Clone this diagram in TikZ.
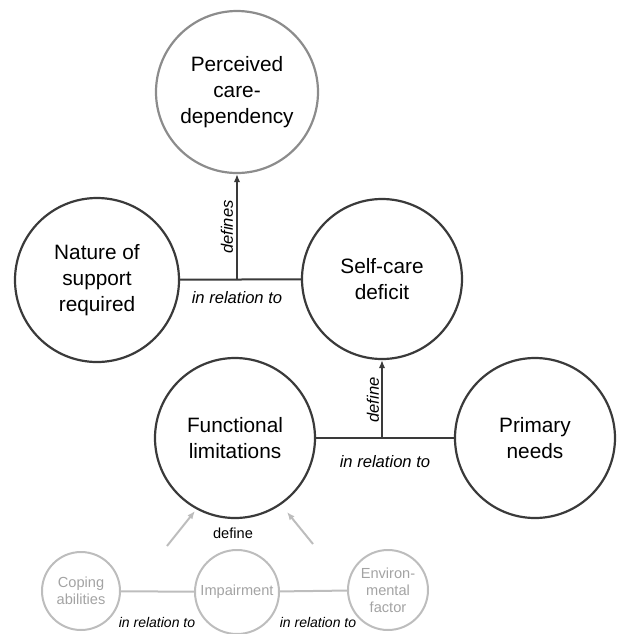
\documentclass[tikz,border=0pt]{standalone}
\usepackage{fontspec}
\setmainfont{Liberation Sans}
\usetikzlibrary{arrows.meta}
\definecolor{edgegray}{HTML}{3A3A3A}
\definecolor{softgray}{HTML}{8C8C8C}
\definecolor{palegray}{HTML}{BDBDBD}
\definecolor{fadetext}{HTML}{A3A3A3}
\begin{document}
\begin{tikzpicture}[x=0.5pt,y=-0.5pt,
  concept/.style={circle,draw=edgegray,line width=1.1pt,align=center,inner sep=0pt,
    font=\fontsize{10.4}{13}\selectfont,minimum size=80pt},
  minor/.style={circle,draw=palegray,line width=1pt,text=fadetext,align=center,inner sep=0pt,
    font=\fontsize{7.3}{8.5}\selectfont},
  link/.style={draw=edgegray,line width=1pt},
  faintlink/.style={draw=palegray,line width=1pt},
  tip/.style={-{Latex[length=4pt,width=3.2pt]}},
  rel/.style={font=\fontsize{8.3}{10}\selectfont\itshape},
  smallrel/.style={font=\fontsize{7}{9}\selectfont\itshape}]
 \useasboundingbox (0,0) rectangle (625,634);
 % upper concepts
 \node[concept,draw=softgray,minimum size=81pt] (perc) at (237,92) {Perceived\\care-\\dependency};
 \node[concept,minimum size=82pt] (nat) at (97,280) {Nature of\\support\\required};
 \node[concept] (self) at (382,279) {Self-care\\deficit};
 \node[concept] (func) at (235,438) {Functional\\limitations};
 \node[concept] (prim) at (535,438) {Primary\\needs};
 % lower concepts
 \node[minor,minimum size=39pt] (cop) at (81,591) {Coping\\abilities};
 \node[minor,minimum size=42pt] (imp) at (237,592) {Impairment};
 \node[minor,minimum size=40pt] (env) at (388,590) {Environ-\\mental\\factor};
 % relations
 \draw[link] (nat) -- (self);
 \draw[link,tip] (perc |- nat) -- (perc);
 \draw[link] (func) -- (prim);
 \draw[link,tip] (self |- func) -- (self);
 \draw[faintlink] (cop) -- (imp);
 \draw[faintlink] (imp) -- (env);
 \coordinate (dl0) at (167,546);
 \coordinate (dl1) at (195,511);
 \coordinate (dr0) at (313,544);
 \coordinate (dr1) at (287,512);
 \draw[faintlink,tip] (dl0) -- (dl1);
 \draw[faintlink,tip] (dr0) -- (dr1);
 % labels
 \node[rel,rotate=90] (lbdefs) at (227,227) {defines};
 \node[rel] (lbrel1) at (237,298) {in relation to};
 \node[rel,rotate=90] (lbdef) at (373,400) {define};
 \node[rel] (lbrel2) at (385,462) {in relation to};
 \node[font=\fontsize{7.3}{9}\selectfont] (lbdef2) at (233,533) {define};
 \node[smallrel] (lbrel3) at (157,622) {in relation to};
 \node[smallrel] (lbrel4) at (318,622) {in relation to};
\end{tikzpicture}
\end{document}
